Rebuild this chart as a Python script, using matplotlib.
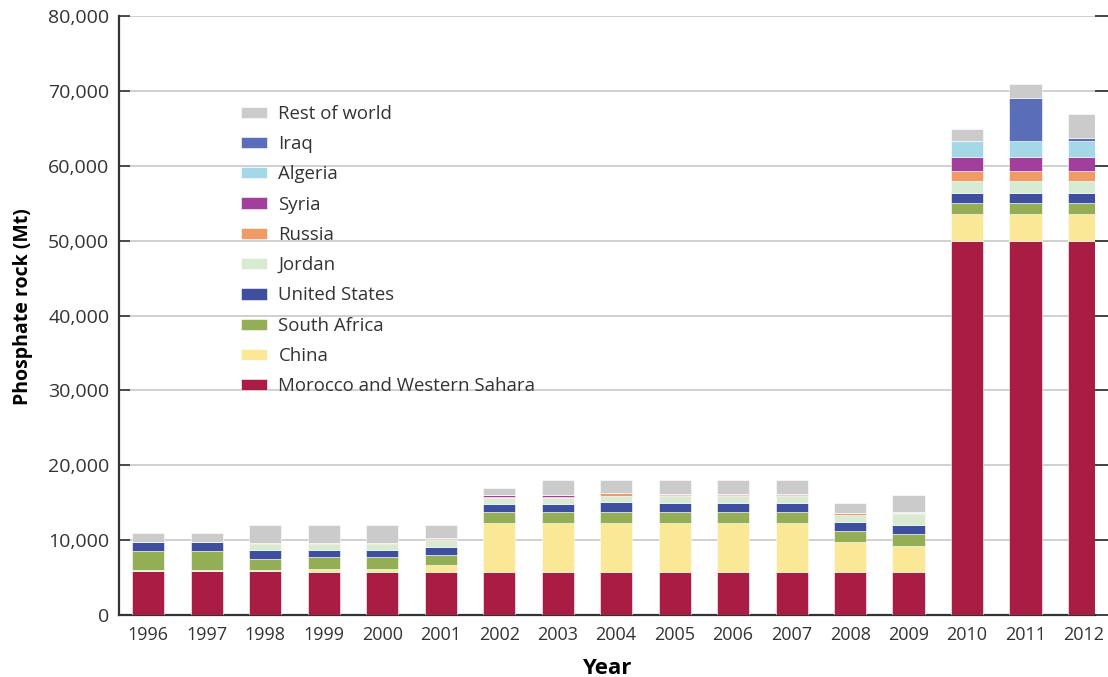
import matplotlib
matplotlib.use("Agg")
from matplotlib import pyplot as plt
import numpy as np

plt.rcParams['font.family'] = ['Open Sans', 'DejaVu Sans']

years = ['1996', '1997', '1998', '1999', '2000', '2001', '2002', '2003', '2004',
         '2005', '2006', '2007', '2008', '2009', '2010', '2011', '2012']

# production per country (stack order bottom -> top)
morocco = [5900, 5900, 5900, 5700, 5700, 5700, 5700, 5700, 5700, 5700, 5700, 5700, 5700, 5700, 50000, 50000, 50000]
china = [50, 50, 100, 400, 400, 940, 6590, 6590, 6590, 6590, 6590, 6590, 4010, 3560, 3600, 3600, 3600]
south_africa = [2600, 2600, 1480, 1650, 1650, 1420, 1510, 1510, 1510, 1510, 1510, 1510, 1510, 1560, 1500, 1500, 1500]
united_states = [1150, 1150, 1160, 890, 890, 1070, 980, 980, 1290, 1120, 1120, 1120, 1200, 1160, 1340, 1340, 1340]
jordan = [100, 100, 880, 880, 880, 890, 890, 890, 840, 930, 930, 930, 940, 1470, 1600, 1600, 1600]
russia = [0, 0, 100, 150, 150, 150, 130, 130, 320, 150, 150, 150, 260, 170, 1250, 1250, 1250]
syria = [0, 0, 0, 0, 0, 100, 230, 230, 0, 100, 100, 100, 0, 0, 1830, 1830, 1830]
algeria = [0, 0, 0, 0, 0, 0, 0, 0, 0, 0, 0, 0, 0, 130, 2170, 2170, 2270]
iraq = [0, 0, 0, 0, 0, 0, 0, 0, 0, 0, 0, 0, 0, 0, 0, 5790, 350]
rest = [1200, 1200, 2380, 2330, 2330, 1730, 970, 1970, 1750, 1900, 1900, 1900, 1380, 2250, 1700, 1910, 3250]

labels = ['Morocco and Western Sahara', 'China', 'South Africa', 'United States', 'Jordan',
          'Russia', 'Syria', 'Algeria', 'Iraq', 'Rest of world']
series = [morocco, china, south_africa, united_states, jordan, russia, syria, algeria, iraq, rest]
colors = ['#A91D44', '#FBE897', '#93AE54', '#3F4FA0', '#D6EBD2',
          '#F09B65', '#A23E9B', '#A5D8E6', '#5A6DB8', '#CBCBCB']

fig = plt.figure(figsize=(11.08, 6.77), dpi=100)
ax = fig.add_axes([0.1074, 0.0916, 0.881, 0.8845])

x = np.arange(len(years))
bottom = np.zeros(len(years))
for vals, lbl, col in zip(series, labels, colors):
    ax.bar(x, vals, 0.55, bottom=bottom, color=col, label=lbl,
           edgecolor='white', linewidth=0.4, zorder=3)
    bottom += np.array(vals)

ax.set_xlim(-0.5, 16.19)
ax.set_ylim(0, 80000)
ax.set_yticks(np.arange(0, 80001, 10000))
ax.set_yticklabels([f"{v:,}" for v in range(0, 80001, 10000)])
ax.set_xticks(x)
ax.set_xticklabels(years)
ax.yaxis.grid(True, color='#c8c8c8', linewidth=1.2, zorder=0)
ax.set_axisbelow(True)

for s in ['top', 'right']:
    ax.spines[s].set_visible(False)
for s in ['left', 'bottom']:
    ax.spines[s].set_color('#333333')
    ax.spines[s].set_linewidth(1.6)

ax.tick_params(axis='y', direction='in', length=8, width=1.2, color='#333333',
               labelsize=14, labelcolor='#333333', pad=7)
ax.tick_params(axis='x', length=0, labelsize=13, labelcolor='#333333', pad=8)

# ticks on right side, pointing out
ax2 = ax.twinx()
ax2.set_ylim(0, 80000)
ax2.set_yticks(np.arange(0, 80001, 10000))
ax2.tick_params(axis='y', direction='out', length=9, width=1.2, color='#222222', labelright=False)
for s in ax2.spines.values():
    s.set_visible(False)

ax.set_ylabel('Phosphate rock (Mt)', fontsize=14, fontweight='bold', labelpad=12)
ax.yaxis.set_label_coords(-0.088, 0.515)
ax.set_xlabel('Year', fontsize=16, fontweight='bold', labelpad=10)

handles, lbls = ax.get_legend_handles_labels()
leg = ax.legend(handles[::-1], lbls[::-1], loc='upper left', bbox_to_anchor=(0.108, 0.88),
                frameon=False, fontsize=13.4, handlelength=1.4, handleheight=0.55,
                labelspacing=0.66, handletextpad=0.6)
for t in leg.get_texts():
    t.set_color('#333333')

fig.savefig('out.png', dpi=100)
